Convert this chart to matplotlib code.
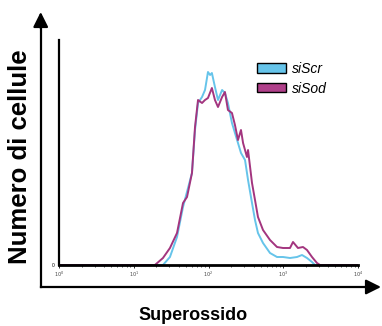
import numpy as np
import matplotlib
matplotlib.use('Agg')
import matplotlib.pyplot as plt
from matplotlib.patches import Patch

plt.rcParams['font.family'] = ['Liberation Sans', 'DejaVu Sans']

# fluorescence intensity (log scale) and cell counts
sisod_x = [1, 19.2, 24.6, 30.5, 37.9, 45.6, 51.6, 60.1, 66.0, 72.4, 81.9, 89.8, 98.4, 111, 122,
           134, 152, 166, 182, 206, 226, 248, 272, 290, 327, 338, 382, 419, 459, 536, 665,
           825, 993, 1231, 1350, 1574, 1837, 2078, 2425, 2826, 3103, 10000]
sisod_y = [0, 0, 7, 17, 32, 62, 68, 92, 138, 165, 162, 165, 167, 177, 165,
           158, 168, 173, 155, 152, 140, 125, 135, 122, 108, 115, 82, 65, 48, 35, 25,
           18, 17, 17, 23, 17, 18, 15, 8, 2, 0, 0]

siscr_x = [1, 24.6, 30.5, 37.9, 45.6, 60.1, 66.0, 72.4, 81.9, 89.8, 98.4, 105, 111, 122, 134,
           152, 166, 182, 206, 226, 248, 272, 308, 338, 382, 419, 459, 536, 665, 825,
           993, 1231, 1528, 1782, 2078, 2425, 2660, 10000]
siscr_y = [0, 0, 8, 28, 58, 92, 135, 162, 168, 175, 193, 190, 192, 178, 165,
           175, 172, 162, 142, 132, 122, 112, 105, 85, 62, 45, 32, 22, 12, 8,
           8, 7, 8, 10, 7, 3, 0, 0]

labels = ['siScr', 'siSod']
colors = ['#66C4EA', '#A3357F']
tick_vals = [1, 10, 100, 1000, 10000]
tick_labels = ['$10^0$', '$10^1$', '$10^2$', '$10^3$', '$10^4$']

fig = plt.figure(figsize=(3.82, 3.26), dpi=100)
ax = fig.add_axes([59 / 382, 1 - 265 / 326, (358 - 59) / 382, (265 - 40) / 326])

ax.plot(siscr_x, siscr_y, color=colors[0], linewidth=1.4)
ax.plot(sisod_x, sisod_y, color=colors[1], linewidth=1.4)

ax.set_xscale('log')
ax.set_xlim(1, 10000)
ax.set_ylim(0, 225)
ax.set_xticks(tick_vals)
ax.set_xticklabels(tick_labels, fontsize=3.5, color='#444444')
ax.tick_params(axis='x', which='major', length=2, width=0.6, pad=1.5)
ax.tick_params(axis='x', which='minor', length=1.2, width=0.5)
ax.set_yticks([0])
ax.set_yticklabels(['0'], fontsize=3.5)
ax.tick_params(axis='y', length=0, pad=3)

for side in ['top', 'right']:
    ax.spines[side].set_visible(False)
ax.spines['left'].set_linewidth(1.6)
ax.spines['bottom'].set_linewidth(2.0)
ax.spines['bottom'].set_zorder(5)

# legend
handles = [Patch(facecolor=colors[0], edgecolor='black', linewidth=1.0),
           Patch(facecolor='#B0408A', edgecolor='black', linewidth=1.0)]
ax.legend(handles, labels, loc='upper left', bbox_to_anchor=(257 / 382, 1 - 62 / 326),
          bbox_transform=fig.transFigure, frameon=False, borderpad=0, borderaxespad=0,
          handlelength=2.1, handleheight=0.65, labelspacing=0.4, handletextpad=0.4,
          prop={'size': 10, 'style': 'italic'})

# outer arrows
x0, y0 = 40.7 / 382, 1 - 287 / 326
fig.add_artist(plt.Line2D([x0, x0], [y0, 1 - 22 / 326], color='black', linewidth=1.6,
                          transform=fig.transFigure))
fig.add_artist(plt.Line2D([x0, 370 / 382], [y0, y0], color='black', linewidth=1.6,
                          transform=fig.transFigure))
ax.annotate('', xy=(x0, 1 - 12 / 326), xytext=(x0, 1 - 28 / 326), xycoords='figure fraction',
            arrowprops=dict(arrowstyle='-|>,head_length=0.9,head_width=0.45', color='black',
                            linewidth=1.6, shrinkA=0, shrinkB=0))
ax.annotate('', xy=(381 / 382, y0), xytext=(365 / 382, y0), xycoords='figure fraction',
            arrowprops=dict(arrowstyle='-|>,head_length=0.9,head_width=0.45', color='black',
                            linewidth=1.6, shrinkA=0, shrinkB=0))

fig.text(20 / 382, 1 - 157 / 326, 'Numero di cellule', rotation=90, ha='center', va='center',
         fontsize=18.5, fontweight='bold')
fig.text(193 / 382, 1 - 315 / 326, 'Superossido', ha='center', va='center',
         fontsize=13, fontweight='bold')

fig.savefig('out.png', dpi=100)
